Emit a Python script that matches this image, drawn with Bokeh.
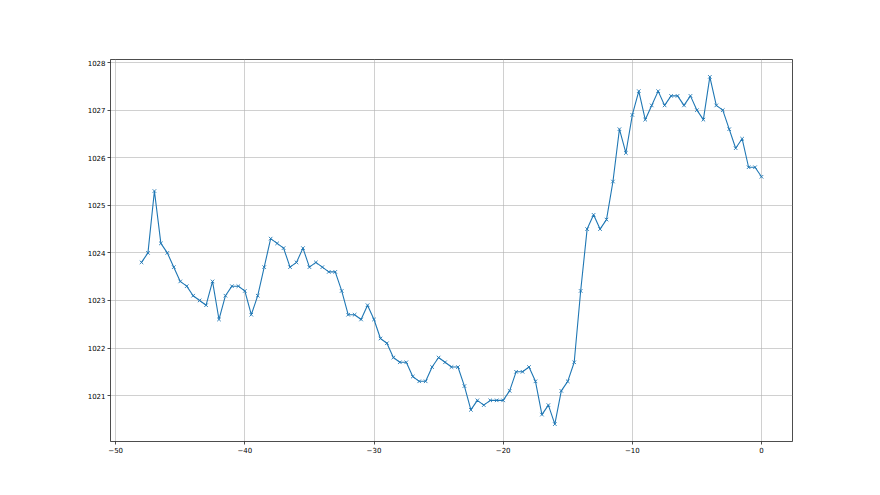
from bokeh.plotting import figure
from bokeh.models import FixedTicker, Range1d
from bokeh.embed import file_html
from bokeh.resources import INLINE

x_vals = [i * 0.5 - 48 for i in range(97)]
pressure = [
    1023.8, 1024.0, 1025.3, 1024.2, 1024.0, 1023.7, 1023.4, 1023.3, 1023.1, 1023.0,
    1022.9, 1023.4, 1022.6, 1023.1, 1023.3, 1023.3, 1023.2, 1022.7, 1023.1, 1023.7,
    1024.3, 1024.2, 1024.1, 1023.7, 1023.8, 1024.1, 1023.7, 1023.8, 1023.7, 1023.6,
    1023.6, 1023.2, 1022.7, 1022.7, 1022.6, 1022.9, 1022.6, 1022.2, 1022.1, 1021.8,
    1021.7, 1021.7, 1021.4, 1021.3, 1021.3, 1021.6, 1021.8, 1021.7, 1021.6, 1021.6,
    1021.2, 1020.7, 1020.9, 1020.8, 1020.9, 1020.9, 1020.9, 1021.1, 1021.5, 1021.5,
    1021.6, 1021.3, 1020.6, 1020.8, 1020.4, 1021.1, 1021.3, 1021.7, 1023.2, 1024.5,
    1024.8, 1024.5, 1024.7, 1025.5, 1026.6, 1026.1, 1026.9, 1027.4, 1026.8, 1027.1,
    1027.4, 1027.1, 1027.3, 1027.3, 1027.1, 1027.3, 1027.0, 1026.8, 1027.7, 1027.1,
    1027.0, 1026.6, 1026.2, 1026.4, 1025.8, 1025.8, 1025.6,
]
x_ticks = [-50, -40, -30, -20, -10, 0]
y_ticks = [1021, 1022, 1023, 1024, 1025, 1026, 1027, 1028]

xmin, xmax = min(x_vals), max(x_vals)
ymin, ymax = min(pressure), max(pressure)
xm = (xmax - xmin) * 0.05
ym = (ymax - ymin) * 0.05

p = figure(width=864, height=479, output_backend="svg", toolbar_location=None,
           x_range=Range1d(xmin - xm, xmax + xm), y_range=Range1d(ymin - ym, ymax + ym),
           min_border_left=110, min_border_right=72, min_border_top=59, min_border_bottom=38)
p.background_fill_color = "white"
p.border_fill_color = "white"
p.outline_line_color = "black"
p.outline_line_width = 0.7

color = "#1f77b4"
p.line(x_vals, pressure, line_color=color, line_width=1.1)
p.scatter(x_vals, pressure, marker="x", size=5, line_color=color, line_width=0.9)

for ax, ticks in ((p.xaxis[0], x_ticks), (p.yaxis[0], y_ticks)):
    ax.ticker = FixedTicker(ticks=ticks)
    ax.major_label_text_font = "DejaVu Sans"
    ax.major_label_text_font_size = "7px"
    ax.major_label_text_color = "black"
    ax.axis_line_color = None
    ax.major_tick_line_color = "black"
    ax.major_tick_line_width = 0.7
    ax.major_tick_in = 0
    ax.major_tick_out = 3
    ax.minor_tick_line_color = None
    ax.major_label_standoff = 2

p.xgrid.ticker = FixedTicker(ticks=x_ticks)
p.ygrid.ticker = FixedTicker(ticks=y_ticks)
for g in (p.xgrid[0], p.ygrid[0]):
    g.grid_line_color = "#b0b0b0"
    g.grid_line_width = 0.6

open("out.html", "w").write(file_html(p, INLINE))
